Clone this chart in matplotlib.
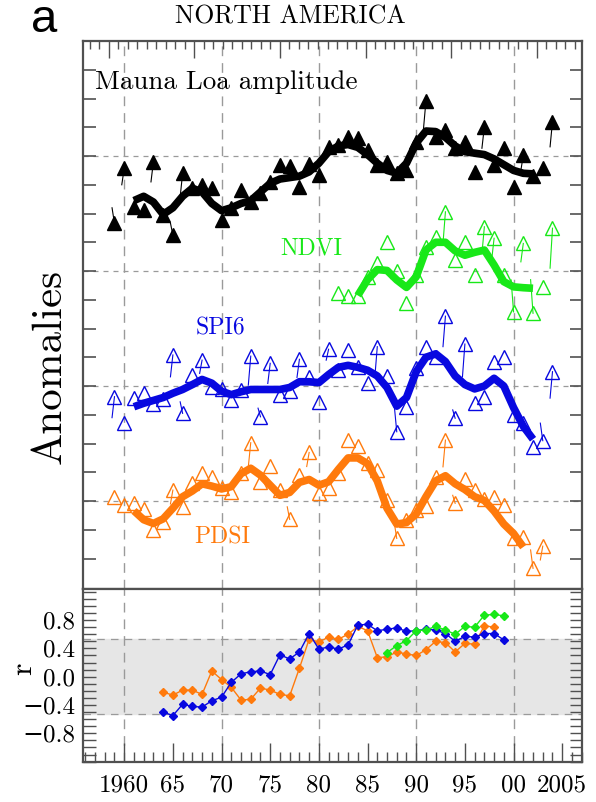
import numpy as np
import matplotlib
matplotlib.use("Agg")
import matplotlib.pyplot as plt
from matplotlib.ticker import MultipleLocator, FixedLocator

plt.rcParams['font.family'] = ['cmr10', 'DejaVu Serif']
plt.rcParams['mathtext.fontset'] = 'custom'
plt.rcParams['mathtext.rm'] = 'Liberation Sans'

# ---- top panel: annual anomalies (triangles), thin-line ends, smoothed curve ----
ml_years = np.arange(1959, 2005)
ml_vals = [-2.34, -0.43, -1.76, -1.88, -0.2, -2.05, -2.75, -0.6, -1.12, -1.01,
           -1.12, -2.23, -1.82, -1.18, -1.59, -1.30, -0.9, -0.31, -0.35, -1.07,
           -0.26, -0.66, 0.30, 0.4, 0.65, 0.61, 0.2, -0.31, -0.2, -0.6,
           -0.5, 0.5, 1.92, 0.67, 0.9, 0.27, 0.5, -0.55, 1.02, -0.31,
           0.27, -1.07, 0.03, -0.7, -0.43, 1.2]
ml_tail_years = [1959, 1960, 1963, 1965, 1966, 1991, 1997, 2001, 2004]
ml_tail_ends = [-1.8, -1.0, -0.9, -2.33, -1.42, 0.96, 0.27, -0.5, 0.32]
ml_curve_years = np.arange(1961, 2003)
ml_curve = [-1.55, -1.4, -1.6, -2.03, -1.8, -1.4, -1.12, -1.25, -1.65, -1.9,
            -1.8, -1.65, -1.55, -1.25, -0.95, -0.8, -0.75, -0.7, -0.55, -0.25,
            0.15, 0.35, 0.4, 0.3, 0.05, -0.25, -0.5, -0.6, -0.25, 0.45,
            0.87, 0.85, 0.65, 0.35, 0.15, 0.1, 0.05, -0.1, -0.3, -0.5,
            -0.6, -0.62]

ndvi_years = np.arange(1982, 2005)
ndvi_vals = [-0.78, -0.86, -0.86, -0.2, 0.27, 1.02, 0.0, -1.12, -0.14, 0.85,
             1.2, 2.06, 0.38, 1.02, -0.14, 1.54, 1.14, -0.14, -1.42, 0.96,
             -1.47, -0.57, 1.49]
ndvi_tail_years = [1993, 1997, 1998, 2000, 2001, 2002, 2004]
ndvi_tail_ends = [0.96, 0.6, 0.38, -0.31, 0.32, -0.3, 0.1]
ndvi_curve_years = np.arange(1984, 2003)
ndvi_curve = [-0.85, -0.3, 0.05, 0.02, -0.31, -0.57, -0.2, 0.73, 1.0, 1.0,
              0.7, 0.55, 0.65, 0.73, 0.21, -0.37, -0.55, -0.58, -0.6]

spi_years = np.arange(1959, 2005)
spi_vals = [-0.37, -1.30, -0.43, -0.23, -0.63, -0.46, 1.08, -0.95, 0.38, 0.9,
            -0.02, -0.1, -0.49, -0.15, 1.04, -1.07, 0.79, -0.31, -0.16, 0.93,
            0.32, -0.55, 1.28, 0.56, 1.25, 0.67, 0.09, 1.37, 0.35, -1.59,
            -0.72, 0.62, 1.37, 1.02, 2.43, -1.12, 1.46, -0.6, -0.37, 0.85,
            1.02, -1.01, -1.3, -2.13, -1.9, 0.5]
spi_tail_years = [1959, 1965, 1966, 1968, 1973, 1974, 1975, 1978, 1981, 1986,
                  1988, 1993, 1994, 1995, 2003, 2004]
spi_tail_ends = [-1.1, 0.32, -0.55, 0.44, 0.03, -0.77, 0.09, 0.3, 0.9, 0.32,
                 -0.7, 1.37, -0.83, 0.32, -1.29, -0.42]
spi_curve_years = np.arange(1961, 2003)
spi_curve = [-0.72, -0.6, -0.5, -0.4, -0.25, -0.12, 0.05, 0.23, 0.1, -0.18,
             -0.3, -0.2, -0.12, -0.12, -0.12, -0.12, -0.05, 0.15, 0.15, 0.12,
             0.4, 0.65, 0.72, 0.65, 0.55, 0.35, -0.05, -0.7, -0.4, 0.5,
             1.0, 1.12, 0.85, 0.35, 0.05, -0.1, 0.0, 0.27, 0.0, -0.75,
             -1.4, -1.85]

pdsi_years = np.arange(1959, 2004)
pdsi_vals = [0.15, -0.14, -0.06, -0.29, -1.01, -0.72, 0.38, -0.22, 0.62, 0.99,
             0.85, 0.44, 0.32, 0.96, 2.03, 0.67, 1.22, 0.38, -0.64, 0.9,
             1.69, 0.27, 0.46, 0.96, 2.12, 1.91, 1.33, 1.08, 0.03, -1.3,
             -0.66, -0.3, -0.17, 0.85, 2.12, -0.08, 0.75, 0.38, 0.06, 0.15,
             -0.14, -1.3, -1.24, -2.34, -1.57]
pdsi_tail_years = [1965, 1973, 1977, 1979, 1988, 1993, 1994, 2002, 2003]
pdsi_tail_ends = [-0.1, 1.19, -0.2, 1.2, -0.77, 1.19, 0.2, -1.7, -2.05]
pdsi_curve_years = np.arange(1961, 2002)
pdsi_curve = [-0.34, -0.65, -0.78, -0.62, -0.25, 0.15, 0.35, 0.6, 0.52, 0.42,
              0.5, 0.95, 1.14, 0.9, 0.55, 0.2, 0.3, 0.65, 0.75, 0.55,
              0.67, 1.1, 1.5, 1.5, 1.3, 0.7, -0.25, -0.8, -0.75, -0.45,
              0.15, 0.7, 0.88, 0.6, 0.4, 0.15, 0.02, -0.35, -0.8, -1.13,
              -1.6]

# ---- bottom panel: running correlation r ----
r_spi_years = np.arange(1964, 2000)
r_spi = [-0.50, -0.55, -0.39, -0.42, -0.43, -0.34, -0.29, -0.08, 0.04, 0.07,
         0.08, 0.03, 0.31, 0.25, 0.35, 0.61, 0.39, 0.42, 0.39, 0.45,
         0.73, 0.74, 0.65, 0.67, 0.69, 0.64, 0.65, 0.67, 0.66, 0.61,
         0.50, 0.57, 0.56, 0.61, 0.61, 0.52]
r_pdsi_years = np.arange(1964, 1999)
r_pdsi = [-0.22, -0.26, -0.19, -0.19, -0.25, 0.08, -0.04, -0.15, -0.33, -0.32,
          -0.16, -0.19, -0.25, -0.27, 0.12, 0.53, 0.49, 0.56, 0.53, 0.60,
          0.71, 0.65, 0.27, 0.28, 0.35, 0.32, 0.30, 0.38, 0.50, 0.48,
          0.35, 0.47, 0.46, 0.72, 0.70]
r_ndvi_years = np.arange(1987, 2000)
r_ndvi = [0.34, 0.44, 0.51, 0.65, 0.66, 0.71, 0.66, 0.60, 0.71, 0.70,
          0.87, 0.88, 0.86]
r_signif = 0.53

BLACK = 'black'
GREEN = '#18e818'
BLUE = '#0808e0'
ORANGE = '#ff7a0c'
GRID = '#9a9a9a'
FRAME = '#505050'

fig = plt.figure(figsize=(5.96, 8.02), dpi=100)
ax1 = fig.add_axes([0.1398, 0.2652, 0.8362, 0.6840])
ax2 = fig.add_axes([0.1398, 0.0495, 0.8362, 0.2157])


def draw_series(ax, years, vals, tyears, tends, cyears, curve, base, color, filled):
    v = np.asarray(vals) + base
    lookup = dict(zip(years, v))
    for ty, te in zip(tyears, tends):
        ax.plot([ty, ty - 0.25], [lookup[ty], te + base], color=color, lw=0.8, zorder=3)
    ax.plot(years, v, ls='none', marker='^', ms=10, mec=color, mew=1.0,
            mfc=color if filled else 'none', zorder=4)
    ax.plot(cyears, np.asarray(curve) + base, color=color, lw=5.5,
            solid_capstyle='butt', solid_joinstyle='round', zorder=5)


for base in (12, 8, 4, 0):
    ax1.axhline(base, color=GRID, ls=(0, (4, 4)), lw=0.9, zorder=1)
for ax in (ax1, ax2):
    for yr in (1960, 1970, 1980, 1990, 2000):
        ax.axvline(yr, color=GRID, ls=(0, (7, 5)), lw=1.0, zorder=1)

draw_series(ax1, ml_years, ml_vals, ml_tail_years, ml_tail_ends,
            ml_curve_years, ml_curve, 12, BLACK, True)
draw_series(ax1, ndvi_years, ndvi_vals, ndvi_tail_years, ndvi_tail_ends,
            ndvi_curve_years, ndvi_curve, 8, GREEN, False)
draw_series(ax1, spi_years, spi_vals, spi_tail_years, spi_tail_ends,
            spi_curve_years, spi_curve, 4, BLUE, False)
draw_series(ax1, pdsi_years, pdsi_vals, pdsi_tail_years, pdsi_tail_ends,
            pdsi_curve_years, pdsi_curve, 0, ORANGE, False)

ax1.text(1957.0, 14.57, 'Mauna Loa amplitude', fontsize=19.5, ha='left', va='center')
ax1.text(1979.2, 8.77, 'NDVI', fontsize=17, color=GREEN, ha='center', va='center')
ax1.text(1969.9, 6.02, 'SPI6', fontsize=17, color=BLUE, ha='center', va='center')
ax1.text(1970.1, -1.25, 'PDSI', fontsize=17, color=ORANGE, ha='center', va='center')

ax1.set_xlim(1955.8, 2007.0)
ax1.set_ylim(-3.07, 16.01)
ax1.set_yticks(np.arange(-2, 16))
ax1.tick_params(axis='y', direction='in', left=True, right=True, length=9,
                width=1.2, color=FRAME, labelleft=False)
top_major = 1958.4 + 8.8 * np.arange(-1, 7)
top_minor = 1949.6 + (8.8 / 9) * np.arange(0, 70)
ax1.xaxis.set_major_locator(FixedLocator(top_major))
ax1.xaxis.set_minor_locator(FixedLocator(top_minor))
ax1.tick_params(axis='x', which='both', direction='in', top=True, bottom=False,
                labeltop=False, labelbottom=False, color=FRAME, width=1.0)
ax1.tick_params(axis='x', which='major', length=12)
ax1.tick_params(axis='x', which='minor', length=6)

# bottom panel
ax2.axhspan(-r_signif, r_signif, color='#e6e6e6', zorder=0)
for lev in (-r_signif, r_signif):
    ax2.axhline(lev, color=GRID, ls=(0, (6, 5)), lw=0.9, zorder=1)
ax2.plot(r_pdsi_years, r_pdsi, color=ORANGE, lw=1.0, marker='D', ms=4.5, zorder=3)
ax2.plot(r_spi_years, r_spi, color=BLUE, lw=1.0, marker='D', ms=4.5, zorder=4)
ax2.plot(r_ndvi_years, r_ndvi, color=GREEN, lw=1.0, marker='D', ms=4.5, zorder=5)

ax2.set_xlim(1955.8, 2007.0)
ax2.set_ylim(-1.21, 1.235)
ax2.set_xticks(np.arange(1960, 2006, 5))
ax2.set_xticklabels(['1960', '65', '70', '75', '80', '85', '90', '95', '00', '2005'])
ax2.xaxis.set_minor_locator(MultipleLocator(1))
ax2.tick_params(axis='x', which='both', direction='in', top=False, bottom=True,
                color=FRAME, width=1.0, labelsize=18, pad=9)
ax2.tick_params(axis='x', which='major', length=14)
ax2.tick_params(axis='x', which='minor', length=7)
ax2.set_yticks([-0.8, -0.4, 0.0, 0.4, 0.8])
ax2.set_yticklabels(['\u22120.8', '\u22120.4', '0.0', '0.4', '0.8'])
ax2.yaxis.set_minor_locator(MultipleLocator(0.1))
ax2.tick_params(axis='y', which='both', direction='in', left=True, right=True,
                length=9, color=FRAME, width=1.0, labelsize=18, pad=6)

for ax in (ax1, ax2):
    for sp in ax.spines.values():
        sp.set_color(FRAME)
        sp.set_linewidth(1.6)

# panel letter via mathtext so its box hugs the glyph
fig.text(0.0738, 0.9605, r'$\mathrm{a}$', fontsize=34, ha='center', va='baseline')
fig.text(0.4866, 0.9788, 'NORTH AMERICA', fontsize=18.5, ha='center', va='center')
fig.text(0.084, 0.5436, 'Anomalies', fontsize=31, rotation=90, ha='center', va='center')
fig.text(0.0386, 0.166, 'r', fontsize=23, rotation=90, ha='center', va='center')

fig.savefig('out.png', dpi=100)
